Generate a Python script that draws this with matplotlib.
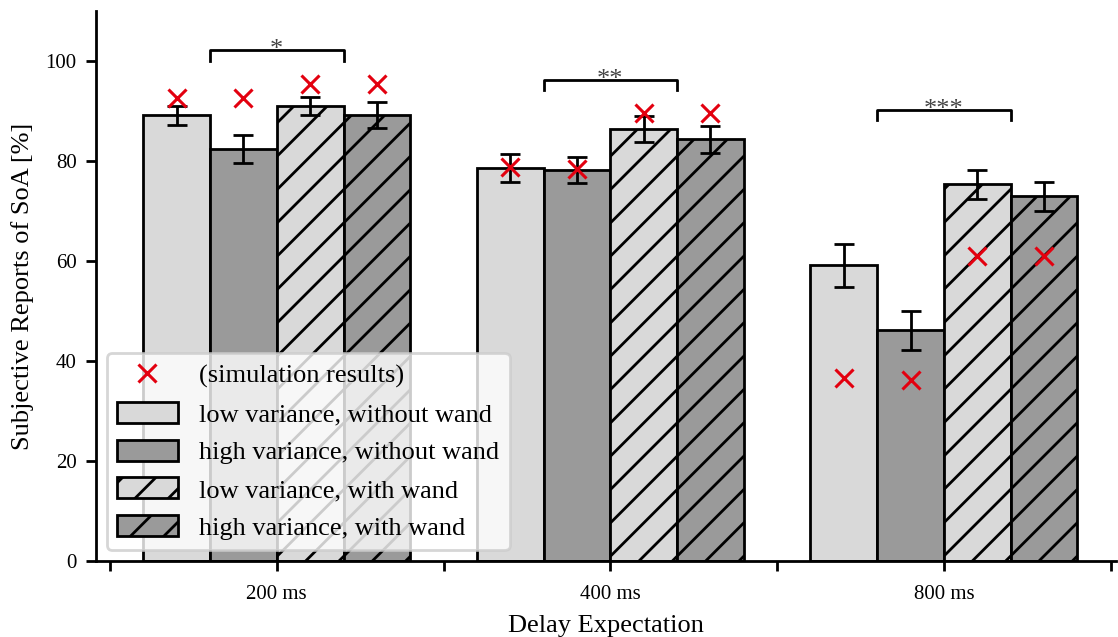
import numpy as np
import matplotlib
matplotlib.use("Agg")
import matplotlib.pyplot as plt

plt.rcParams['font.family'] = ['Liberation Serif', 'DejaVu Serif']
plt.rcParams['hatch.linewidth'] = 1.0

# data
groups = ['200 ms', '400 ms', '800 ms']
labels = ['low variance, without wand', 'high variance, without wand',
          'low variance, with wand', 'high variance, with wand']
means = [
    [89.2, 78.7, 59.2],
    [82.5, 78.2, 46.2],
    [91.1, 86.4, 75.4],
    [89.3, 84.4, 73.0],
]
errs = [
    [1.9, 2.8, 4.3],
    [2.8, 2.6, 3.9],
    [1.8, 2.6, 2.9],
    [2.6, 2.7, 2.9],
]
sim = [
    [92.7, 78.9, 36.7],
    [92.7, 78.5, 36.3],
    [95.5, 89.7, 61.0],
    [95.5, 89.7, 61.0],
]
sig_text = ['*', '**', '***']
sig_height = [102.2, 96.3, 90.3]

colors = ['#d9d9d9', '#9a9a9a', '#d9d9d9', '#9a9a9a']
hatches = ['', '', '//', '//']

fig = plt.figure(figsize=(5.59, 3.185), dpi=200)
ax = fig.add_axes([0.0859, 0.1193, 0.912, 0.8634])

x = np.arange(len(groups))
width = 0.2
offsets = [-0.3, -0.1, 0.1, 0.3]

bars = []
for i in range(4):
    b = ax.bar(x + offsets[i], means[i], width, color=colors[i], edgecolor='black',
               linewidth=1.0, hatch=hatches[i], label=labels[i], zorder=2)
    ax.errorbar(x + offsets[i], means[i], yerr=errs[i], fmt='none', ecolor='black',
                elinewidth=1.0, capsize=3.5, capthick=1.0, zorder=3)
    bars.append(b)

for i in range(4):
    sc, = ax.plot(x + offsets[i], sim[i], linestyle='none', marker='x', color='#e3000f',
                  markersize=6.5, markeredgewidth=1.1, zorder=4)

# significance brackets
for g in range(3):
    h = sig_height[g]
    x0 = x[g] - 0.2
    x1 = x[g] + 0.2
    ax.plot([x0, x0, x1, x1], [h - 2.1, h, h, h - 2.1], color='black', linewidth=1.0, zorder=3)
    ax.text(x[g], h - 1.2, sig_text[g], ha='center', va='baseline', fontsize=9.5, color='#444444')

ax.set_xlim(-0.542, 2.515)
ax.set_ylim(0, 110)
ax.set_yticks([0, 20, 40, 60, 80, 100])
ax.set_xticks([-0.5, 0, 0.5, 1, 1.5, 2, 2.5])
ax.set_xticklabels(['', groups[0], '', groups[1], '', groups[2], ''])
ax.tick_params(labelsize=7.5, width=1.0)
ax.tick_params(axis='x', pad=5)
for s in ['top', 'right']:
    ax.spines[s].set_visible(False)
for s in ['left', 'bottom']:
    ax.spines[s].set_linewidth(1.0)

ax.set_xlabel('Delay Expectation', fontsize=9.5, labelpad=4)
ax.set_ylabel('Subjective Reports of SoA [%]', fontsize=9.5)

ax.legend([sc] + bars, ['(simulation results)'] + labels, loc='lower left', fontsize=9.5,
          handlelength=2.3, handleheight=0.85, labelspacing=0.5, framealpha=0.8,
          borderaxespad=0.4)

fig.savefig('out.png', dpi=200)
